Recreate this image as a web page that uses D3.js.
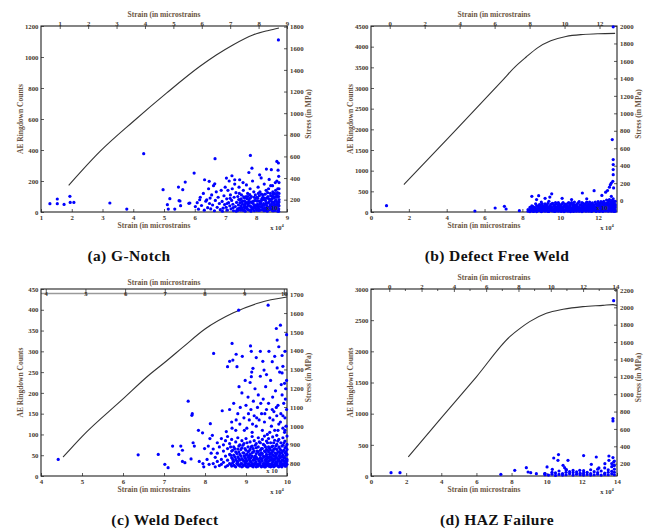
<!DOCTYPE html>
<html>
<head>
<meta charset="utf-8">
<script src="https://cdn.jsdelivr.net/npm/d3@7"></script>
<style>
  body { margin: 0; background: #fff; }
  svg { display: block; }
</style>
</head>
<body>
<div id="chart"></div>
<script>
// ---- ticks ----
const aXTicks = [1, 2, 3, 4, 5, 6, 7, 8, 9];
const aTopTicks = [1, 2, 3, 4, 5, 6, 7, 8, 9];
const aYTicks = [0, 200, 400, 600, 800, 1000, 1200];
const aRTicks = [200, 400, 600, 800, 1000, 1200, 1400, 1600, 1800];

const bXTicks = [0, 2, 4, 6, 8, 10, 12];
const bTopTicks = [0, 2, 4, 6, 8, 10, 12];
const bYTicks = [0, 500, 1000, 1500, 2000, 2500, 3000, 3500, 4000, 4500];
const bRTicks = [0, 200, 400, 600, 800, 1000, 1200, 1400, 1600, 1800, 2000];

const cXTicks = [4, 5, 6, 7, 8, 9, 10];
const cTopTicks = [4, 5, 6, 7, 8, 9, 10];
const cYTicks = [0, 50, 100, 150, 200, 250, 300, 350, 400, 450];
const cRTicks = [800, 900, 1000, 1100, 1200, 1300, 1400, 1500, 1600, 1700];

const dXTicks = [0, 2, 4, 6, 8, 10, 12, 14];
const dTopTicks = [0, 2, 4, 6, 8, 10, 12, 14];
const dTopMinor = [1, 3, 5, 7, 9, 11, 13];
const dYTicks = [0, 500, 1000, 1500, 2000, 2500, 3000];
const dRTicks = [200, 400, 600, 800, 1000, 1200, 1400, 1600, 1800, 2000, 2200];

// ---- stress-strain curves (strain x10^4, stress MPa) ----
const aCurveStrain = [1.9, 2.92, 4.0, 5.08, 6.16, 6.7, 7.24, 7.89, 8.4, 8.74];
const aCurveStress = [332, 646, 923, 1185, 1431, 1538, 1631, 1723, 1765, 1788];
const bCurveStrain = [1.74, 4.0, 7.0, 7.6, 8.2, 8.8, 9.5, 10.3, 11.2, 12.0, 12.9];
const bCurveStress = [184, 700, 1390, 1530, 1645, 1750, 1830, 1880, 1903, 1912, 1916];
const cCurveStrain = [4.54, 5.0, 6.0, 6.65, 7.06, 7.47, 8.0, 8.68, 9.33, 10.0];
const cCurveStress = [834, 943, 1143, 1273, 1345, 1420, 1515, 1600, 1655, 1685];
const dCurveStrain = [2.12, 4.0, 6.0, 7.9, 8.5, 9.03, 9.98, 10.93, 12.06, 13.2, 13.77, 14.0];
const dCurveStress = [277, 727, 1200, 1662, 1760, 1835, 1931, 1977, 2008, 2023, 2031, 2020];

// ---- AE ringdown counts: [strain, counts] ----
const aPts = [
  [1.29,54],[1.53,84],[1.53,54],[1.75,49],[1.94,101],[1.95,62],[2.07,62],[3.24,58],[3.79,19],
  [4.34,376],[4.97,144],[5.11,47],[5.19,86],[5.14,19],[5.35,19],[5.49,73],[5.47,161],[5.61,144],
  [5.69,193],[5.52,71],[5.54,41],[5.81,56],[5.98,251],[5.84,58],[6.16,79],[6.32,208],[6.47,198],
  [6.65,182],[6.66,344],[7.03,219],[7.21,234],[7.30,208],[7.46,208],[7.76,255],[7.81,365],
  [7.86,283],[8.33,277],[8.49,273],[8.67,326],[8.72,316],[8.72,1110],[6.39,79],
  [6.02,35],[6.08,60],[6.12,18],[6.18,95],[6.22,42],[6.28,120],[6.31,12],[6.36,70],[6.42,28],
  [6.45,150],[6.48,55],[6.5,90],[6.52,20],[6.55,110],[6.58,45],[6.61,170],[6.64,8],[6.67,75],
  [6.7,130],[6.73,30],[6.76,95],[6.8,55],[6.83,15],[6.86,140],[6.89,68],[6.92,25],[6.95,105],
  [6.97,48],[6.99,160],[6.9,5],[7.02,30],[7.04,85],[7.06,12],[7.08,140],[7.1,60],[7.12,200],
  [7.14,40],[7.16,110],[7.18,20],[7.2,75],[7.22,150],[7.24,50],[7.26,8],[7.28,95],[7.3,180],
  [7.32,35],[7.34,125],[7.36,62],[7.38,15],[7.4,100],[7.42,45],[7.44,160],[7.46,25],[7.48,80],
  [7.35,5],[7.25,28],[7.15,88],[7.45,120],[7.05,55],[7.4,10],[7.5,40],[7.52,110],[7.54,15],
  [7.56,70],[7.58,140],[7.6,30],[7.62,90],[7.64,5],[7.66,55],[7.68,175],[7.7,20],[7.72,120],
  [7.74,45],[7.76,80],[7.78,12],[7.8,150],[7.82,35],[7.84,100],[7.86,60],[7.88,200],[7.9,25],
  [7.92,130],[7.94,8],[7.96,75],[7.98,45],[7.55,50],[7.65,25],[7.75,65],[7.85,18],[7.95,30],
  [7.6,10],[7.7,85],[7.8,40],[7.9,55],[7.53,28],[7.63,68],[7.73,100],[7.83,5],[7.93,95],[7.57,190],
  [8.0,20],[8.02,95],[8.04,50],[8.06,160],[8.08,10],[8.1,70],[8.12,130],[8.14,35],[8.16,220],
  [8.18,85],[8.2,15],[8.22,110],[8.24,55],[8.26,180],[8.28,25],[8.3,75],[8.32,140],[8.34,40],
  [8.36,5],[8.38,100],[8.4,60],[8.42,210],[8.44,30],[8.46,120],[8.48,80],[8.05,30],[8.15,60],
  [8.25,8],[8.35,90],[8.45,45],[8.1,105],[8.2,45],[8.3,20],[8.4,150],[8.03,70],[8.13,12],
  [8.23,80],[8.33,60],[8.43,15],[8.07,40],[8.17,115],[8.27,50],[8.37,28],[8.47,170],[8.11,240],
  [8.5,20],[8.52,65],[8.54,130],[8.56,8],[8.58,90],[8.6,45],[8.62,190],[8.64,25],[8.66,110],
  [8.68,60],[8.7,150],[8.72,15],[8.74,80],[8.73,230],[8.71,270],[8.69,35],[8.67,200],[8.65,70],
  [8.63,140],[8.61,10],[8.59,55],[8.57,100],[8.55,30],[8.53,170],[8.51,85],[8.74,40],[8.74,120],
  [8.74,190],[8.73,100],[8.72,50],[8.7,5],[8.68,95],[8.66,20],[8.64,75],[8.62,40],[8.6,120],
  [8.58,15],[8.56,60],[8.54,40],[8.52,100],
  [7.41,22],[7.47,60],[7.51,85],[7.57,12],[7.61,48],[7.67,100],[7.71,35],[7.77,58],[7.81,90],
  [7.87,28],[7.91,70],[7.97,110],[8.01,40],[8.05,88],[8.09,22],[8.13,65],[8.19,30],[8.21,95],
  [8.25,42],[8.29,115],[8.31,10],[8.35,55],[8.39,30],[8.41,85],[8.45,20],[8.49,50],[8.51,40],
  [8.55,115],[8.57,25],[8.61,70],[8.63,95],[8.65,45],[8.67,30],[8.69,125],[8.71,55],[8.73,20],
  [8.74,65],[8.74,150],[8.73,5],[8.7,100],[8.59,32],[8.53,8],[8.47,105],[8.43,68],[8.37,125],
  [8.33,15],[8.27,90],[8.23,20],[8.17,75],[8.11,50],[8.07,120],[8.03,12],[7.99,88],[7.93,42],
  [7.89,18],[7.83,65],[7.79,112],[7.73,15],[7.69,60],[7.63,38],[7.59,98],[7.53,65],[7.49,12],[7.43,80]
];

const bPts = [
  [0.82,153],[5.49,24],[6.56,97],[7.05,137],[7.14,73],[7.84,32],[12.8,4480],[12.75,1753],
  [12.8,1268],[12.8,1147],[12.8,1026],[12.8,904],[12.78,743],[12.65,662],[12.82,582],
  [8.5,380],[8.75,300],[8.86,396],[9.2,330],[9.45,360],[9.55,440],[10.1,330],[10.6,300],
  [11.17,460],[11.4,320],[11.79,517],[12.2,400],[12.4,480],[12.5,520],[12.6,600],[12.7,700]
];
// dense band, grouped by strain column: [strain, [counts...]]
const bCols = [
  [8.3,[20,60]],[8.4,[40,110,10]],[8.5,[80,30,150]],[8.6,[15,120,60]],[8.7,[200,45,90]],
  [8.8,[25,140,70]],[8.9,[100,35,180]],[9.0,[60,10,130,240]],[9.1,[150,40,85]],[9.2,[20,110,200]],
  [9.3,[70,160,35]],[9.4,[120,15,90,260]],[9.5,[45,180,100]],[9.6,[210,60,25]],[9.7,[130,80,15,170]],
  [9.8,[50,190,105]],[9.9,[20,140,75,230]],[10.0,[95,160,40]],[10.1,[30,120,200,70]],[10.2,[150,55,10]],
  [10.3,[85,180,35,120]],[10.4,[20,100,210]],[10.5,[140,60,25,170]],[10.6,[90,230,45]],
  [10.7,[15,130,190,70]],[10.8,[110,50,160]],[10.9,[200,30,85,140]],[11.0,[60,120,20,250]],
  [11.1,[170,95,40]],[11.2,[25,140,210,75]],[11.3,[115,55,180]],[11.4,[30,90,240,150]],
  [11.5,[70,20,130,190]],[11.6,[160,45,100]],[11.7,[220,80,25,140]],[11.8,[55,170,110]],
  [11.9,[15,130,200,75]],[12.0,[95,40,160,250]],[12.1,[180,60,120,20]],[12.2,[35,140,210,90]],
  [12.3,[110,50,170,260]],[12.4,[25,200,80,140]],[12.5,[150,60,230,100,30]],
  [12.6,[90,180,40,300,130]],[12.7,[20,220,120,380,60,160]],[12.8,[70,140,250,30,200,320,100]],
  [12.9,[50,180,110,260,20,150]],
  [8.45,[50,95]],[8.55,[20,70,130]],[8.65,[40,100]],[8.75,[10,60,150]],[8.85,[50,120]],
  [8.95,[30,90,170]],[9.05,[20,110,200]],[9.15,[60,130]],[9.25,[40,90,160]],[9.35,[15,100,210]],
  [9.45,[70,140]],[9.55,[30,110,200]],[9.65,[50,150]],[9.75,[20,100,230]],[9.85,[60,130]],
  [9.95,[35,110,190]],[10.05,[15,70,140]],[10.15,[45,100,230]],[10.25,[25,130,190]],[10.35,[60,150]],
  [10.45,[40,120,230]],[10.55,[10,90,200]],[10.65,[60,150]],[10.75,[35,100,240]],[10.85,[20,70,170]],
  [10.95,[50,110,220]],[11.05,[30,90,170]],[11.15,[10,60,130,230]],[11.25,[45,100,170]],
  [11.35,[20,80,210]],[11.45,[55,110,170]],[11.55,[35,100,240]],[11.65,[15,75,130,200]],
  [11.75,[45,100,170]],[11.85,[30,90,240]],[11.95,[55,120,180]],[12.05,[20,70,130,210]],
  [12.15,[40,100,250]],[12.25,[15,60,170,230]],[12.35,[35,90,140,210]],[12.45,[50,110,170,290]],
  [12.55,[20,80,190,270]],[12.65,[45,110,200,250]],[12.75,[30,90,170,280]],[12.85,[15,60,120,190,230]]
];

const cPts = [
  [4.42,40],[6.37,51],[6.86,52],[7.02,28],[7.10,20],[7.21,72],[7.36,52],[7.41,72],[7.45,62],
  [7.45,35],[7.51,32],[7.59,180],[7.68,146],[7.69,150],[7.71,80],[7.74,72],[7.66,41],[7.84,110],
  [7.86,35],[7.94,104],[7.97,22],[7.99,66],[8.13,126],[8.18,98],[8.21,295],[8.42,157],[8.52,107],
  [8.55,263],[8.60,276],[8.66,319],[8.68,279],[8.76,293],[8.78,263],[8.82,399],[8.83,215],
  [8.91,288],[9.11,313],[9.13,300],[9.13,239],[9.17,259],[9.25,285],[9.35,300],[9.41,276],
  [9.50,244],[9.56,300],[9.54,411],[9.64,275],[9.70,288],[9.74,355],[9.76,327],[9.84,363],
  [9.80,311],[9.90,264],[9.88,248],[9.94,223],
  [8.6,160],[8.65,130],[8.7,175],[8.75,110],[8.8,150],[8.85,125],[8.9,200],[8.95,140],[9.0,170],
  [9.02,115],[9.05,190],[9.08,135],[9.1,225],[9.12,160],[9.15,105],[9.18,180],[9.2,145],[9.22,210],
  [9.25,120],[9.28,165],[9.3,195],[9.32,135],[9.35,240],[9.38,150],[9.4,110],[9.42,185],[9.45,130],
  [9.48,215],[9.5,160],[9.52,100],[9.55,175],[9.58,140],[9.6,230],[9.62,120],[9.65,190],[9.68,155],
  [9.7,110],[9.72,205],[9.75,145],[9.78,170],[9.8,125],[9.82,250],[9.85,150],[9.88,195],[9.9,115],
  [9.92,175],[9.95,140],[9.97,210],[9.99,160],[9.99,230],[9.98,120],[9.96,185],[9.94,105],[9.9,145],
  [9.86,220],[9.84,130],[9.78,110],[9.74,165],[9.66,135],[9.58,105],[9.46,150],[9.36,175],[9.26,140],
  [9.16,125],[9.06,150],[8.96,110],[8.86,165],[8.76,135],[8.66,115],[8.98,230],[9.14,250],[9.44,255],
  [9.64,160],[9.76,260],[9.88,290],[9.95,300],[9.99,340],
  [8.05,40],[8.1,28],[8.15,55],[8.08,72],[7.95,30],[8.12,90]
];
const cCols = [
  [8.2,[30,65]],[8.25,[45,22]],[8.3,[80,35,55]],[8.35,[25,70]],[8.4,[40,90,28]],[8.45,[60,33,75]],
  [8.5,[22,48,85]],[8.55,[38,66,25,95]],[8.6,[52,30,78]],[8.65,[24,44,88,60]],[8.7,[35,70,26,50]],
  [8.75,[58,22,82,40]],[8.8,[28,46,92,65,34]],[8.85,[75,24,52,38]],[8.9,[42,68,30,85,22]],
  [8.95,[55,26,36,78,48]],[9.0,[24,62,40,90,32,50]],[9.05,[70,28,45,58,22]],[9.1,[36,82,25,52,64,42]],
  [9.15,[48,30,72,24,95,56]],[9.2,[26,60,38,85,44,30]],[9.25,[54,22,68,34,78,46]],
  [9.3,[40,92,28,58,24,70]],[9.35,[32,50,80,26,62,44]],[9.4,[66,24,42,88,36,54]],
  [9.45,[28,74,46,30,60,22,96]],[9.5,[52,34,84,26,64,40,48]],[9.55,[24,58,70,36,44,90,30]],
  [9.6,[46,28,62,80,38,54,22]],[9.65,[34,72,26,50,94,42,60]],[9.7,[56,30,86,40,24,66,48]],
  [9.75,[26,64,44,76,32,54,98]],[9.8,[40,22,70,58,36,88,48]],[9.85,[62,28,46,80,34,56,24]],
  [9.9,[30,74,50,38,92,26,60]],[9.95,[44,24,68,56,84,34,110]],[10.0,[28,52,76,40,64,96,36]],
  [8.625,[28,50,70]],[8.675,[40,62,32]],[8.725,[24,46,66]],[8.775,[36,54,30]],[8.825,[26,42,72,58]],
  [8.875,[30,48,64]],[8.925,[24,38,56,74]],[8.975,[44,28,66,34]],[9.025,[22,36,52,80]],
  [9.075,[40,60,30,48]],[9.125,[26,44,70,34]],[9.175,[38,58,22,66]],[9.225,[30,48,74,40]],
  [9.275,[24,42,60,28]],[9.325,[36,52,82,30]],[9.375,[22,40,66,56]],[9.425,[30,48,76,26]],
  [9.475,[40,58,36,22,70]],[9.525,[26,44,62,30,80]],[9.575,[38,52,24,66,46]],[9.625,[30,42,70,24,56]],
  [9.675,[22,38,64,48,80]],[9.725,[34,50,28,72,44]],[9.775,[24,40,58,36,84]],[9.825,[30,52,66,26,44]],
  [9.875,[38,22,56,72,46]],[9.925,[28,44,62,36,80]],[9.975,[24,40,58,70,32,50]]
];

const dPts = [
  [1.14,54],[1.65,54],[7.39,27],[8.18,91],[8.84,134],[8.94,64],[9.09,54],[9.41,37],[9.89,37],
  [10.02,145],[10.32,107],[10.40,289],[10.64,252],[10.67,343],[10.93,171],[11.02,134],[11.21,252],
  [11.12,102],[11.88,91],[12.10,327],[12.54,187],[12.82,305],[12.97,129],[13.31,198],[13.54,321],
  [13.54,252],[13.77,295],[13.77,921],[13.77,884],[13.81,2812],[13.81,225],[13.81,171]
];
const dCols = [
  [9.9,[20,40]],[10.1,[15]],[10.3,[30,60]],[10.5,[10,50]],[10.7,[25,80]],[10.9,[40,15]],
  [11.1,[60,20,100]],[11.3,[35,70]],[11.5,[15,55,90]],[11.7,[30,65]],[11.9,[20,45]],
  [12.1,[50,15,85]],[12.3,[25,60]],[12.5,[40,100,15]],[12.7,[20,70]],[12.9,[55,30,110]],
  [13.1,[15,80]],[13.3,[45,25,130]],[13.5,[60,20,100]],[13.7,[35,75,150,200]],
  [13.85,[20,60,110,170,240]]
];

const captions = ["(a) G-Notch", "(b) Defect Free Weld", "(c) Weld Defect", "(d) HAZ Failure"];

// ---- layout ----
const width = 656;
const height = 531;
const tickFont = "'Liberation Serif', 'DejaVu Serif', serif";
const tickColor = "#45372c";
const titleColor = "#6a5442";

function expand(cols) {
  return cols.flatMap(([s, cs]) => cs.map((c) => [s, c]));
}

let panels = [
  {
    box: [41, 287, 26, 212], xDom: [1, 9], xTicks: aXTicks, topDom: [0.34, 9], topTicks: aTopTicks,
    yDom: [0, 1200], yTicks: aYTicks, rDom: [86, 1806], rTicks: aRTicks,
    strain: aCurveStrain, stress: aCurveStress, pts: aPts, caption: captions[0], cap: [129, 261],
    inner: [272, 210]
  },
  {
    box: [371, 617, 26, 212], xDom: [0, 13], xTicks: bXTicks, topDom: [-1.07, 13], topTicks: bTopTicks,
    yDom: [0, 4500], yTicks: bYTicks, rDom: [-130, 2000], rTicks: bRTicks,
    strain: bCurveStrain, stress: bCurveStress, pts: bPts.concat(expand(bCols)), caption: captions[1], cap: [497, 261],
    inner: [602, 210]
  },
  {
    box: [41, 287, 289, 476], xDom: [4, 10], xTicks: cXTicks, topDom: [3.88, 10.08], topTicks: cTopTicks,
    yDom: [0, 450], yTicks: cYTicks, rDom: [733, 1728], rTicks: cRTicks,
    strain: cCurveStrain, stress: cCurveStress, pts: cPts.concat(expand(cCols)), caption: captions[2], cap: [165, 525],
    inner: [272, 473], barTop: true
  },
  {
    box: [371, 617, 289, 476], xDom: [0, 14], xTicks: dXTicks, topDom: [-1.13, 14.1], topTicks: dTopTicks,
    topMinor: dTopMinor, yDom: [0, 3000], yTicks: dYTicks, rDom: [58, 2211], rTicks: dRTicks,
    strain: dCurveStrain, stress: dCurveStress, pts: dPts.concat(expand(dCols)), caption: captions[3], cap: [497, 525]
  }
];

let svg = d3.select("#chart").append("svg").attr("width", width).attr("height", height);
svg.append("rect").attr("width", width).attr("height", height).attr("fill", "#fff");

function styleAxis(g) {
  g.attr("font-family", tickFont).attr("font-size", 6.8).attr("font-weight", "bold");
  g.select(".domain").remove();
  g.selectAll(".tick line").attr("stroke", "#333").attr("stroke-width", 0.8);
  g.selectAll(".tick text").attr("fill", tickColor);
}

function drawPanel(p) {
  let [x0, x1, y0, y1] = p.box;
  let x = d3.scaleLinear().domain(p.xDom).range([x0, x1]);
  let xt = d3.scaleLinear().domain(p.topDom).range([x0, x1]);
  let y = d3.scaleLinear().domain(p.yDom).range([y1, y0]);
  let yr = d3.scaleLinear().domain(p.rDom).range([y1, y0]);
  let g = svg.append("g");

  // axes with inward ticks
  g.append("g").attr("transform", `translate(0,${y1})`)
    .call(d3.axisBottom(x).tickValues(p.xTicks).tickFormat(d3.format("d")).tickSizeInner(-3).tickSizeOuter(0).tickPadding(3))
    .call(styleAxis);
  g.append("g").attr("transform", `translate(${x0},0)`)
    .call(d3.axisLeft(y).tickValues(p.yTicks).tickFormat(d3.format("d")).tickSizeInner(-3).tickSizeOuter(0).tickPadding(2.5))
    .call(styleAxis);
  g.append("g").attr("transform", `translate(${x1},0)`)
    .call(d3.axisRight(yr).tickValues(p.rTicks).tickFormat(d3.format("d")).tickSizeInner(-3).tickSizeOuter(0).tickPadding(3))
    .call(styleAxis);

  if (p.barTop) {
    // collapsed top axis drawn as a grey band just inside the box
    g.append("line").attr("x1", x0).attr("x2", x1).attr("y1", y0 + 4.5).attr("y2", y0 + 4.5)
      .attr("stroke", "#9a9a9a").attr("stroke-width", 1.6);
    g.append("g").attr("transform", `translate(0,${y0})`)
      .call(d3.axisTop(xt).tickValues(p.topTicks).tickFormat(d3.format("d")).tickSizeInner(-6).tickSizeOuter(0).tickPadding(-6.5))
      .call(styleAxis);
    g.append("text").attr("x", 164).attr("y", y0 - 4.5).attr("text-anchor", "middle")
      .attr("font-family", tickFont).attr("font-size", 7.5).attr("font-weight", "bold")
      .attr("fill", titleColor).text("Strain (in microstrains");
  } else {
    g.append("g").attr("transform", `translate(0,${y0})`)
      .call(d3.axisTop(xt).tickValues(p.topTicks).tickFormat(d3.format("d")).tickSizeInner(-3).tickSizeOuter(0).tickPadding(0.5))
      .call(styleAxis);
    if (p.topMinor) {
      g.selectAll("line.minor").data(p.topMinor).join("line")
        .attr("x1", (d) => xt(d)).attr("x2", (d) => xt(d))
        .attr("y1", y0).attr("y2", y0 + 2)
        .attr("stroke", "#333").attr("stroke-width", 0.8);
    }
    g.append("text").attr("x", (x0 + x1) / 2).attr("y", y0 - 9).attr("text-anchor", "middle")
      .attr("font-family", tickFont).attr("font-size", 7.5).attr("font-weight", "bold")
      .attr("fill", titleColor).text("Strain (in microstrains");
  }

  // box
  g.append("rect").attr("x", x0).attr("y", y0).attr("width", x1 - x0).attr("height", y1 - y0)
    .attr("fill", "none").attr("stroke", "#222").attr("stroke-width", 1.1);

  // axis titles
  g.append("text").attr("x", (x0 + x1) / 2 - 10).attr("y", y1 + 15.5).attr("text-anchor", "middle")
    .attr("font-family", tickFont).attr("font-size", 7.5).attr("font-weight", "bold")
    .attr("fill", titleColor).text("Strain (in microstrains");
  g.append("text")
    .attr("transform", `translate(${x0 - 21},${(y0 + y1) / 2}) rotate(-90)`)
    .attr("text-anchor", "middle").attr("dy", "0.35em")
    .attr("font-family", tickFont).attr("font-size", 7.5).attr("font-weight", "bold")
    .attr("fill", titleColor).text("AE Ringdown Counts");
  g.append("text")
    .attr("transform", `translate(${x1 + 21},${(y0 + y1) / 2 - 5}) rotate(-90)`)
    .attr("text-anchor", "middle").attr("dy", "0.35em")
    .attr("font-family", tickFont).attr("font-size", 7.5).attr("font-weight", "bold")
    .attr("fill", titleColor).text("Stress (in MPa)");

  let ex = g.append("text").attr("x", x1 - 10).attr("y", y1 + 18).attr("text-anchor", "middle")
    .attr("font-family", tickFont).attr("font-size", 6.5).attr("font-weight", "bold").attr("fill", "#333");
  ex.append("tspan").text("x 10");
  ex.append("tspan").attr("dy", -3).attr("font-size", 4.5).text("4");

  // stress-strain curve
  let curve = d3.line().x((d) => x(d[0])).y((d) => yr(d[1])).curve(d3.curveMonotoneX);
  g.append("path").datum(d3.zip(p.strain, p.stress))
    .attr("d", curve).attr("fill", "none").attr("stroke", "#333").attr("stroke-width", 1.1);

  // AE hits
  g.append("g").selectAll("circle").data(p.pts).join("circle")
    .attr("cx", (d) => x(d[0])).attr("cy", (d) => y(d[1])).attr("r", 1.6)
    .attr("fill", "#0000ff");

  if (p.inner) {
    g.append("text").attr("x", p.inner[0]).attr("y", p.inner[1]).attr("text-anchor", "middle")
      .attr("font-family", tickFont).attr("font-size", 6.5).attr("font-weight", "bold").attr("fill", "#333")
      .text("x 10");
  }

  // caption
  svg.append("text").attr("x", p.cap[0]).attr("y", p.cap[1]).attr("text-anchor", "middle")
    .attr("font-family", tickFont).attr("font-size", 15.5).attr("font-weight", "bold")
    .attr("letter-spacing", 0.4).attr("fill", "#111").text(p.caption);
}

panels.forEach(drawPanel);
</script>
</body>
</html>
